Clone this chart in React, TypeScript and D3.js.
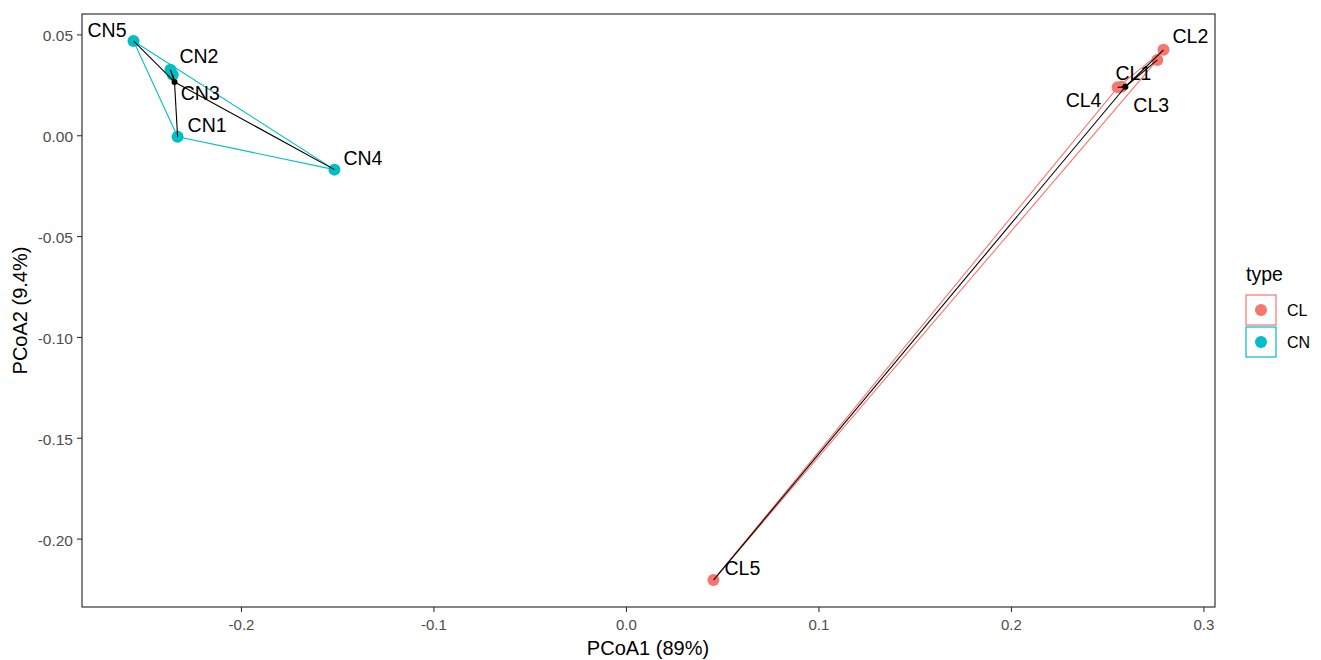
import React from "react";
import * as d3 from "d3";

// ---- data ----
const sampleNames = ["CN1", "CN2", "CN3", "CN4", "CN5", "CL1", "CL2", "CL3", "CL4", "CL5"];
const sampleType = ["CN", "CN", "CN", "CN", "CN", "CL", "CL", "CL", "CL", "CL"];
const pcoa1 = [-0.2332, -0.2369, -0.2357, -0.1517, -0.2561, 0.2572, 0.2790, 0.2758, 0.2552, 0.0452];
const pcoa2 = [-0.0005, 0.0327, 0.0302, -0.0168, 0.0470, 0.0243, 0.0426, 0.0376, 0.0240, -0.2203];
const groups = ["CL", "CN"];
const groupCenterX = [0.2592, -0.2348];
const groupCenterY = [0.0243, 0.0267];
const xTicks = [-0.2, -0.1, 0.0, 0.1, 0.2, 0.3];
const yTicks = [0.05, 0.0, -0.05, -0.1, -0.15, -0.2];
const xTitle = "PCoA1 (89%)";
const yTitle = "PCoA2 (9.4%)";
const legendTitle = "type";

// label offsets (px) from each point, repel-like placement
const labelDx = [10, 9, 8, 9, -46, -6, 9, -24, -52, 11];
const labelDy = [-5, -7, 25, -5, -4, -7, -7, 52, 20, -5];

const colors: Record<string, string> = { CL: "#F8766D", CN: "#00BFC4" };

const W = 1321, H = 660;
const panel = { left: 82, right: 1215, top: 14, bottom: 607 };
const FONT = "Liberation Sans, Arial, sans-serif";

export default function App() {
  const xExt = d3.extent(pcoa1) as [number, number];
  const yExt = d3.extent(pcoa2) as [number, number];
  const xPad = (xExt[1] - xExt[0]) * 0.05;
  const yPad = (yExt[1] - yExt[0]) * 0.05;
  const x = d3.scaleLinear().domain([xExt[0] - xPad, xExt[1] + xPad]).range([panel.left, panel.right]);
  const y = d3.scaleLinear().domain([yExt[0] - yPad, yExt[1] + yPad]).range([panel.bottom, panel.top]);
  const fmtX = (v: number) => d3.format(".1f")(v).replace("\u2212", "-");
  const fmtY = (v: number) => d3.format(".2f")(v).replace("\u2212", "-");

  const pts = sampleNames.map((n, i) => ({ name: n, type: sampleType[i], x: pcoa1[i], y: pcoa2[i], i }));

  const hulls = groups.map((g) => {
    const gp = pts.filter((p) => p.type === g).map((p) => [x(p.x), y(p.y)] as [number, number]);
    const h = d3.polygonHull(gp) || gp;
    return { g, path: "M" + h.map((p) => p.join(",")).join("L") + "Z" };
  });

  return (
    <svg width={W} height={H} style={{ position: "absolute", left: 0, top: 0, background: "#fff" }}>
      <rect x={panel.left} y={panel.top} width={panel.right - panel.left} height={panel.bottom - panel.top} fill="#fff" />
      {hulls.map((h) => (
        <path key={h.g} d={h.path} fill="none" stroke={colors[h.g]} strokeWidth={1.1} />
      ))}
      {pts.map((p) => (
        <circle key={p.name} cx={x(p.x)} cy={y(p.y)} r={6} fill={colors[p.type]} />
      ))}
      {pts.map((p) => {
        const gi = groups.indexOf(p.type);
        return (
          <line key={"s" + p.name} x1={x(groupCenterX[gi])} y1={y(groupCenterY[gi])} x2={x(p.x)} y2={y(p.y)} stroke="#000" strokeWidth={1.1} />
        );
      })}
      {groups.map((g, gi) => (
        <circle key={"c" + g} cx={x(groupCenterX[gi])} cy={y(groupCenterY[gi])} r={3} fill="#000" />
      ))}
      {pts.map((p) => (
        <text key={"l" + p.name} x={x(p.x) + labelDx[p.i]} y={y(p.y) + labelDy[p.i]} fontFamily={FONT} fontSize={19.5} fill="#000">
          {p.name}
        </text>
      ))}
      <rect x={panel.left} y={panel.top} width={panel.right - panel.left} height={panel.bottom - panel.top} fill="none" stroke="#333" strokeWidth={1.2} />
      {xTicks.map((t) => (
        <g key={"xt" + t}>
          <line x1={x(t)} x2={x(t)} y1={panel.bottom} y2={panel.bottom + 5} stroke="#333" strokeWidth={1.1} />
          <text x={x(t)} y={panel.bottom + 23} textAnchor="middle" fontFamily={FONT} fontSize={15} fill="#4D4D4D">
            {fmtX(t)}
          </text>
        </g>
      ))}
      {yTicks.map((t) => (
        <g key={"yt" + t}>
          <line x1={panel.left - 5} x2={panel.left} y1={y(t)} y2={y(t)} stroke="#333" strokeWidth={1.1} />
          <text x={panel.left - 9} y={y(t) + 6.5} textAnchor="end" fontFamily={FONT} fontSize={15.5} fill="#4D4D4D">
            {fmtY(t)}
          </text>
        </g>
      ))}
      <text x={648} y={655} textAnchor="middle" fontFamily={FONT} fontSize={20} fill="#000">
        {xTitle}
      </text>
      <text transform={`translate(27,${(panel.top + panel.bottom) / 2}) rotate(-90)`} textAnchor="middle" fontFamily={FONT} fontSize={20} fill="#000">
        {yTitle}
      </text>
      <text x={1246} y={281} fontFamily={FONT} fontSize={19.5} fill="#000">{legendTitle}</text>
      {groups.map((g, i) => (
        <g key={"lg" + g} transform={`translate(1246,${295 + i * 32})`}>
          <rect x={0} y={0} width={30} height={30} fill="#fff" stroke={colors[g]} strokeWidth={1.2} />
          <circle cx={15} cy={15} r={6} fill={colors[g]} />
          <text x={41} y={21} fontFamily={FONT} fontSize={16} fill="#000">{g}</text>
        </g>
      ))}
    </svg>
  );
}
